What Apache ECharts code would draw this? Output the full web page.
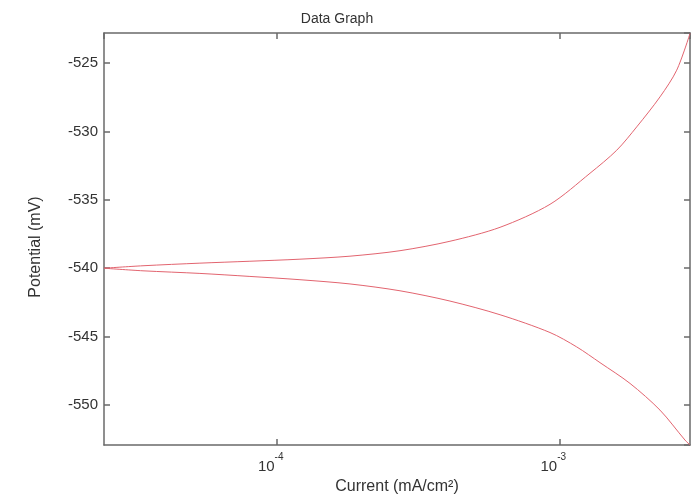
<!DOCTYPE html>
<html>
<head>
<meta charset="utf-8">
<script src="https://cdn.jsdelivr.net/npm/echarts@6/dist/echarts.min.js"></script>
<style>
html,body{margin:0;padding:0;background:#fff;}
#c{width:691px;height:502px;}
</style>
</head>
<body>
<div id="c"></div>
<script>
// Anodic branch (upper)
const anodicCurrent = [2.449e-5, 3.365e-5, 5.35e-5, 8.04e-5, 1.209e-4, 1.817e-4, 2.731e-4, 4.103e-4, 6.17e-4, 9.27e-4, 1.284e-3, 1.596e-3, 1.879e-3, 2.271e-3, 2.602e-3, 2.90e-3];
const anodicPotential = [-540.0, -539.82, -539.63, -539.49, -539.34, -539.12, -538.72, -538.03, -537.01, -535.33, -533.06, -531.38, -529.67, -527.48, -525.53, -522.85];
// Cathodic branch (lower)
const cathodicCurrent = [2.449e-5, 3.365e-5, 5.35e-5, 8.04e-5, 1.209e-4, 1.817e-4, 2.731e-4, 4.103e-4, 6.17e-4, 9.27e-4, 1.152e-3, 1.393e-3, 1.779e-3, 2.271e-3, 2.784e-3, 2.90e-3];
const cathodicPotential = [-540.0, -540.19, -540.38, -540.6, -540.84, -541.15, -541.65, -542.4, -543.4, -544.7, -545.75, -546.9, -548.42, -550.37, -552.56, -552.92];

const xMin = 2.449e-5, xMax = 2.90e-3;
const yMin = -552.92, yMax = -522.81;

const titleText = 'Data Graph';
const xName = 'Current (mA/cm\u00B2)';
const yName = 'Potential (mV)';

const FONT = '"Liberation Sans", Arial, sans-serif';
const AXIS_COLOR = '#6a6a6a';
const TEXT_COLOR = '#333';
const LINE_COLOR = '#e2646f';

function zip(a, b) { return a.map((v, i) => [v, b[i]]); }

const chart = echarts.init(document.getElementById('c'), null, {renderer: 'canvas'});
const axisLine = {show: true, lineStyle: {color: AXIS_COLOR, width: 1.5}};
const axisTick = {show: true, inside: true, length: 6, lineStyle: {color: AXIS_COLOR, width: 1.5}};

chart.setOption({
  animation: false,
  backgroundColor: '#fff',
  title: {
    text: titleText, left: 332, top: 7, textAlign: 'center',
    textStyle: {fontFamily: FONT, fontSize: 14, fontWeight: 'normal', color: TEXT_COLOR}
  },
  grid: {left: 104, right: 1, top: 33, bottom: 57, containLabel: false},
  xAxis: [{
    type: 'log', logBase: 10, min: xMin, max: xMax, position: 'bottom',
    name: xName, nameLocation: 'middle', nameGap: 34,
    nameTextStyle: {fontFamily: FONT, fontSize: 16, color: TEXT_COLOR},
    axisLine: axisLine, axisTick: axisTick, splitLine: {show: false}, minorTick: {show: false},
    axisLabel: {
      showMinLabel: false, showMaxLabel: false, margin: 7, padding: [0, 12, 0, 0],
      formatter: function (v) { return '{b|10}{s|' + Math.round(Math.log10(v)) + '}'; },
      rich: {
        b: {fontFamily: FONT, fontSize: 15, color: TEXT_COLOR, lineHeight: 22, verticalAlign: 'bottom'},
        s: {fontFamily: FONT, fontSize: 10, color: TEXT_COLOR, lineHeight: 22, verticalAlign: 'top'}
      }
    }
  }, {
    type: 'log', logBase: 10, min: xMin, max: xMax, position: 'top',
    axisLine: axisLine, axisTick: axisTick, axisLabel: {show: false}, splitLine: {show: false}
  }],
  yAxis: [{
    type: 'value', min: yMin, max: yMax, position: 'left',
    name: yName, nameLocation: 'middle', nameGap: 60, nameRotate: 90,
    nameTextStyle: {fontFamily: FONT, fontSize: 16, color: TEXT_COLOR, padding: [0, 16, 0, 0]},
    axisLine: axisLine, axisTick: axisTick, splitLine: {show: false},
    axisLabel: {showMinLabel: false, showMaxLabel: false, margin: 6, fontFamily: FONT, fontSize: 15, color: TEXT_COLOR}
  }, {
    type: 'value', min: yMin, max: yMax, position: 'right',
    axisLine: axisLine, axisTick: axisTick, axisLabel: {show: false}, splitLine: {show: false}
  }],
  series: [{
    type: 'line', data: zip(anodicCurrent, anodicPotential), showSymbol: false, smooth: 0.3,
    lineStyle: {color: LINE_COLOR, width: 1}, silent: true
  }, {
    type: 'line', data: zip(cathodicCurrent, cathodicPotential), showSymbol: false, smooth: 0.3,
    lineStyle: {color: LINE_COLOR, width: 1}, silent: true
  }]
});
</script>
</body>
</html>
